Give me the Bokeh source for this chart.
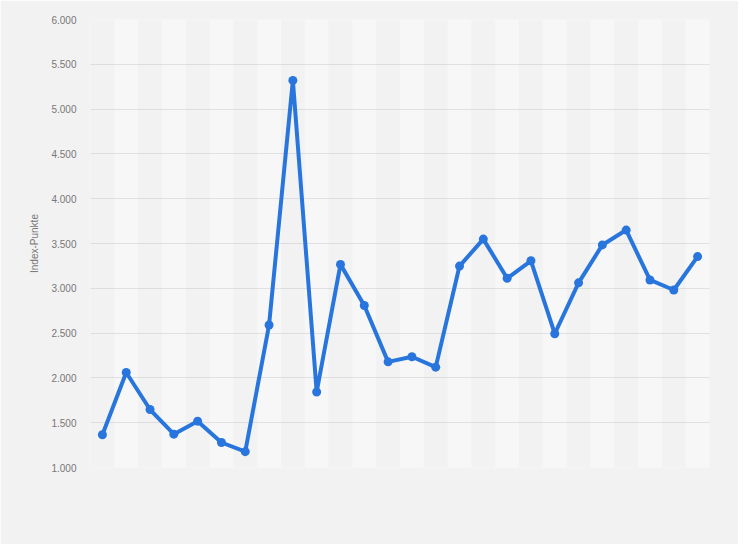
from bokeh.plotting import figure
from bokeh.embed import file_html
from bokeh.resources import INLINE
from bokeh.models import Range1d, FixedTicker, CustomJSTickFormatter

# Data
index_values = [1366, 2060, 1647, 1372, 1517, 1279, 1177, 2590, 5320, 1843,
                3267, 2808, 2179, 2236, 2120, 3248, 3549, 3112, 3307, 2493,
                3061, 3484, 3650, 3093, 2981, 3354]
y_ticks = [1000, 1500, 2000, 2500, 3000, 3500, 4000, 4500, 5000, 5500, 6000]
y_title = "Index-Punkte"

positions = list(range(len(index_values)))
band_positions = [i for i in positions if i % 2 == 1]

BG = "#f2f2f2"
BLUE = "#2876dd"

p = figure(width=738, height=544, output_backend="svg", toolbar_location=None,
           x_range=Range1d(-0.5, len(index_values) - 0.5),
           y_range=Range1d(1000, 6000),
           min_border_left=90, min_border_right=29,
           min_border_top=19, min_border_bottom=77)
p.background_fill_color = BG
p.border_fill_color = BG
p.outline_line_color = None

# alternating vertical bands (drawn beneath the grid lines)
bands = p.vbar(x=band_positions, width=1, bottom=1000, top=6000,
               fill_color="#f7f7f7", line_color=None)
bands.level = "image"

p.line(positions, index_values, line_color=BLUE, line_width=4,
       line_join="round", line_cap="round")
p.scatter(positions, index_values, size=9, fill_color=BLUE, line_color=None)

p.xaxis.visible = False
p.xgrid.visible = False

p.yaxis.ticker = FixedTicker(ticks=y_ticks)
p.yaxis.formatter = CustomJSTickFormatter(code="""
    const s = Math.round(tick).toString();
    return s.replace(/\\B(?=(\\d{3})+(?!\\d))/g, '.');
""")
p.yaxis.axis_line_color = None
p.yaxis.major_tick_line_color = None
p.yaxis.minor_tick_line_color = None
p.yaxis.major_tick_out = 0
p.yaxis.major_tick_in = 0
p.yaxis.major_label_standoff = 14
p.yaxis.major_label_text_font = "Liberation Sans"
p.yaxis.major_label_text_font_size = "10px"
p.yaxis.major_label_text_color = "#777777"
p.yaxis.axis_label = y_title
p.yaxis.axis_label_text_font = "Liberation Sans"
p.yaxis.axis_label_text_font_style = "normal"
p.yaxis.axis_label_text_font_size = "10px"
p.yaxis.axis_label_text_color = "#777777"
p.yaxis.axis_label_standoff = 8

p.ygrid.grid_line_color = "#c8c8c8"
p.ygrid.grid_line_dash = "1 1"
p.ygrid.grid_line_width = 1

html = file_html(p, INLINE)
html = html.replace("<body>", '<body style="background:#f2f2f2">', 1)
open("out.html", "w").write(html)
